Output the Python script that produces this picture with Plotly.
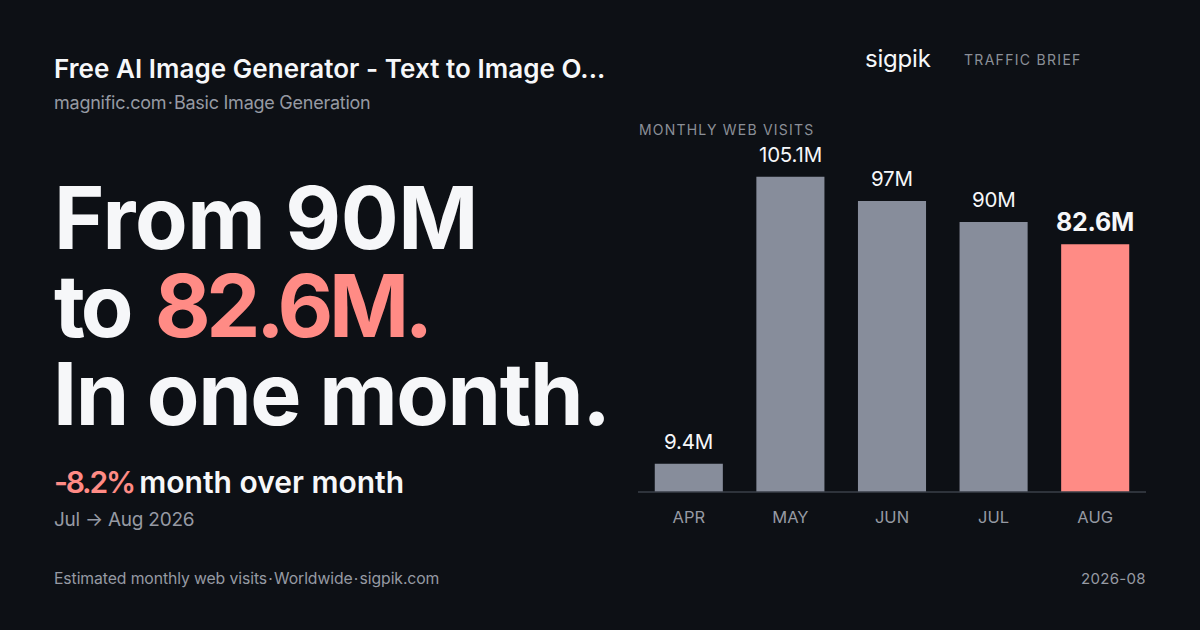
import plotly.graph_objects as go

months = ["APR", "MAY", "JUN", "JUL", "AUG"]
visits = [9.4, 105.1, 97, 90, 82.6]
value_labels = ["9.4M", "105.1M", "97M", "90M", "82.6M"]

BG = "#0d1015"
WHITE = "#f6f7f9"
CORAL = "#ff8b85"
BAR = "#878d9b"
MUTED = "#969aa3"
DIM = "#8b8f97"
FONT = "Inter"

W, H = 1200, 630
BASE_Y, TOP_Y = 492, 130
PX_PER_M = 3.0
HAIR = "\u200a"

bar_colors = [BAR, BAR, BAR, BAR, CORAL]
label_sizes = [20.5, 20.5, 20.5, 20.5, 25]
label_weights = [400, 400, 400, 400, 700]


def track(text, px, color=None, word=0):
    # plotly has no letter spacing option, but it passes a span's style through to the svg
    style = f"letter-spacing:{px}px;word-spacing:{word}px"
    if color:
        style = f"color:{color};" + style
    return f"<span style='{style}'>{text}</span>"


# (x, y, text, size, colour, weight, anchor)
texts = [
    (53, 68, track("Free AI Image Generator - Text to Image O...", 0.05), 26, WHITE, 600, "left"),
    (53, 103, track(f"magnific.com{HAIR}·{HAIR}Basic Image Generation", -0.25), 18, MUTED, 400, "left"),
    (53, 218, track("From 90M", -0.4), 86, WHITE, 700, "left"),
    (53, 306, track("to ", -4, word=9) + track("82.6M.", -4.5, CORAL), 86, WHITE, 700, "left"),
    (52, 394, track("In one month.", -1.4), 86, WHITE, 700, "left"),
    (52.5, 482, track("-8.2% ", -2.2, CORAL) + track("month over month", 0), 30, WHITE, 600, "left"),
    (53, 519, track("Jul → Aug 2026", -0.25), 19, MUTED, 400, "left"),
    (53, 578, track(f"Estimated monthly web visits{HAIR}·{HAIR}Worldwide{HAIR}·{HAIR}sigpik.com", -0.1), 15.75, MUTED, 400, "left"),
    (1147, 578, track("2026-08", 0.3), 15, MUTED, 400, "right"),
    (864, 58, track("sigpik", -0.2), 24, WHITE, 400, "left"),
    (962.5, 59, track("TRAFFIC BRIEF", 1.3), 14, DIM, 400, "left"),
    (637.5, 130, track("MONTHLY WEB VISITS", 1.2), 14, DIM, 400, "left"),
]

fig = go.Figure()
fig.add_trace(go.Bar(
    x=months, y=visits, marker=dict(color=bar_colors, line=dict(width=0)),
    hoverinfo="skip"))

fig.update_layout(
    width=W, height=H, margin=dict(l=0, r=0, t=0, b=0, pad=0), autosize=False,
    paper_bgcolor=BG, plot_bgcolor=BG, showlegend=False, bargap=0.33,
    font=dict(family=FONT),
    xaxis=dict(domain=[638 / W, 1146 / W], showgrid=False, zeroline=False, showline=False,
               ticks="", ticklabelstandoff=13, tickfont=dict(family=FONT, size=16.5, color=MUTED)),
    yaxis=dict(domain=[1 - BASE_Y / H, 1 - TOP_Y / H], range=[0, (BASE_Y - TOP_Y) / PX_PER_M],
               visible=False, showgrid=False),
    shapes=[dict(type="line", xref="paper", yref="paper", x0=638 / W, x1=1146 / W,
                 y0=1 - BASE_Y / H, y1=1 - BASE_Y / H, line=dict(color="#3a3f49", width=1.5))])

# value labels sit further off the bars than textposition="outside" allows
for month, value, text, size, weight in zip(months, visits, value_labels, label_sizes, label_weights):
    fig.add_annotation(
        x=month, y=value, xref="x", yref="y", text=track(text, -0.2), showarrow=False,
        yanchor="middle", yshift=22,
        font=dict(family=FONT, size=size, color=WHITE, weight=weight))

for x, y, text, size, color, weight, anchor in texts:
    fig.add_annotation(
        x=x / W, y=1 - y / H, xref="paper", yref="paper", text=text, showarrow=False,
        xanchor=anchor, yanchor="middle", align=anchor, borderpad=0,
        font=dict(family=FONT, size=size, color=color, weight=weight))

# the page body has a default margin that would shift everything
fig.write_html("out.html", config=dict(displayModeBar=False),
               post_script="document.body.style.margin = '0';")
